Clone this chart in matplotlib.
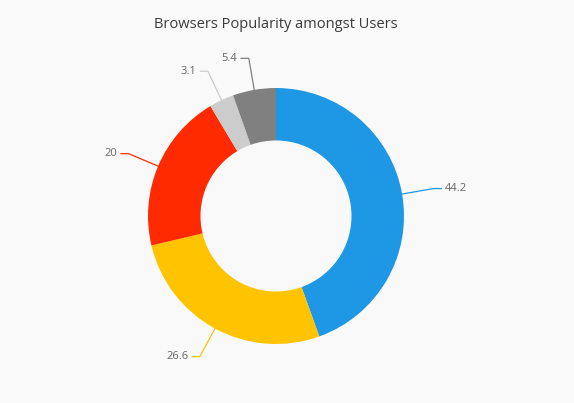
import numpy as np
import matplotlib
matplotlib.use("Agg")
import matplotlib.pyplot as plt

# Data
browsers = ["Chrome", "Firefox", "Internet Explorer", "Opera", "Safari"]
share = [44.2, 26.6, 20, 3.1, 5.4]
labels = ["44.2", "26.6", "20", "3.1", "5.4"]
colors = ["#1E98E4", "#FFC300", "#FF2A00", "#CCCCCC", "#808080"]

bg = "#F9F9F9"
plt.rcParams['font.family'] = ['Open Sans', 'DejaVu Sans']

fig = plt.figure(figsize=(5.74, 4.03), dpi=100, facecolor=bg)

# axes placed so the donut centre sits at (276, 216) px, radius 128 px
W, H = 574, 403
cx, cy, r = 276, 216, 128
ax = fig.add_axes([(cx - r) / W, (H - cy - r) / H, 2 * r / W, 2 * r / H])
ax.set_facecolor(bg)

wedges, _ = ax.pie(share, colors=colors, startangle=90, counterclock=False,
                   radius=1, wedgeprops=dict(width=0.41, linewidth=0))
ax.set_xlim(-1, 1)
ax.set_ylim(-1, 1)
ax.set_aspect("equal")
ax.axis("off")

# leader lines + value labels
for w, lab, col in zip(wedges, labels, colors):
    ang = np.deg2rad((w.theta1 + w.theta2) / 2)
    x0, y0 = np.cos(ang), np.sin(ang)
    x1, y1 = 1.25 * x0, 1.25 * y0
    side = 1 if x0 >= 0 else -1
    x2 = x1 + side * 0.06
    ax.plot([x0, x1, x2], [y0, y1, y1], color=col, lw=0.9, clip_on=False)
    ax.text(x2 + side * 0.03, y1, lab, ha="left" if side > 0 else "right",
            va="center", fontsize=8, color="#666666")

fig.text(cx / W, 1 - 24 / H, "Browsers Popularity amongst Users",
         ha="center", va="center", fontsize=10.5, color="#3A3A3A")

fig.savefig("out.png", dpi=100, facecolor=bg)
